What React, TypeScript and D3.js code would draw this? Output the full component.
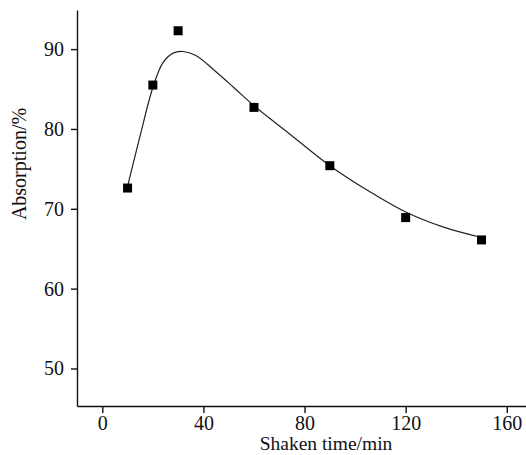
import React, {useRef, useEffect} from 'react';
import * as d3 from "d3";

// measured points
const shakenTime = [10, 20, 30, 60, 90, 120, 150];
const absorption = [72.6, 85.5, 92.3, 82.7, 75.4, 68.9, 66.1];

// fitted curve
const fitTime = [10, 15, 20, 24, 28, 32, 37, 44.5, 52, 60, 74, 90, 106, 120, 135, 150];
const fitAbsorption = [72.8, 79.2, 85.2, 88.3, 89.5, 89.7, 89.2, 87.3, 85.2, 82.9, 79.4, 75.4, 72.1, 69.6, 67.7, 66.4];

const xTicks = [0, 40, 80, 120, 160];
const yTicks = [50, 60, 70, 80, 90];

function App() {
  const canvas = useRef<HTMLDivElement>(null);

  useEffect(() => {
    const width = 526;
    const height = 455;
    const font = "'Liberation Serif', 'Times New Roman', serif";

    d3.select(canvas.current).select('svg').remove();

    const svg = d3
      .select(canvas.current)
      .append("svg")
      .attr("width", width)
      .attr("height", height)
      .style("display", "block")
      .style("background", "#fff");

    const x = d3.scaleLinear().domain([-10, 167.6]).range([77, 526]);
    const y = d3.scaleLinear().domain([45.3, 94.9]).range([406, 10]);

    // x axis
    const xAxis = svg.append("g")
      .attr("transform", `translate(0, 406)`)
      .call(d3.axisBottom(x).tickValues(xTicks).tickSize(7).tickPadding(3).tickSizeOuter(0));
    xAxis.select(".domain").attr("stroke", "#111").attr("stroke-width", 1.4);
    xAxis.selectAll(".tick line").attr("stroke", "#111").attr("stroke-width", 1.4);
    xAxis.selectAll("text")
      .attr("fill", "#111")
      .style("font-family", font)
      .style("font-size", "20px");

    // y axis
    const yAxis = svg.append("g")
      .attr("transform", `translate(77, 0)`)
      .call(d3.axisLeft(y).tickValues(yTicks).tickSize(6).tickPadding(7).tickSizeOuter(0));
    yAxis.select(".domain").attr("stroke", "#111").attr("stroke-width", 1.4);
    yAxis.selectAll(".tick line").attr("stroke", "#111").attr("stroke-width", 1.4);
    yAxis.selectAll("text")
      .attr("fill", "#111")
      .style("font-family", font)
      .style("font-size", "20px");

    // fitted curve
    const line = d3.line<number>()
      .x((d, i) => x(fitTime[i]))
      .y(d => y(d))
      .curve(d3.curveCatmullRom.alpha(0.5));
    svg.append("path")
      .datum(fitAbsorption)
      .attr("d", line)
      .attr("fill", "none")
      .attr("stroke", "#222")
      .attr("stroke-width", 1.2);

    // square markers
    const s = 9;
    svg.selectAll("rect.pt")
      .data(absorption)
      .enter()
      .append("rect")
      .attr("class", "pt")
      .attr("x", (d, i) => x(shakenTime[i]) - s / 2)
      .attr("y", d => y(d) - s / 2)
      .attr("width", s)
      .attr("height", s)
      .attr("fill", "#000");

    // axis titles
    svg.append("text")
      .attr("x", 326)
      .attr("y", 450)
      .attr("text-anchor", "middle")
      .style("font-family", font)
      .style("font-size", "19.5px")
      .attr("fill", "#111")
      .text("Shaken time/min");

    svg.append("text")
      .attr("transform", "rotate(-90)")
      .attr("x", -164)
      .attr("y", 26)
      .attr("text-anchor", "middle")
      .style("font-family", font)
      .style("font-size", "20px")
      .attr("fill", "#111")
      .text("Absorption/%");
  }, []);

  return (
    <div ref={canvas} style={{position: "absolute", left: 0, top: 0}}></div>
  );
}

export default App;
